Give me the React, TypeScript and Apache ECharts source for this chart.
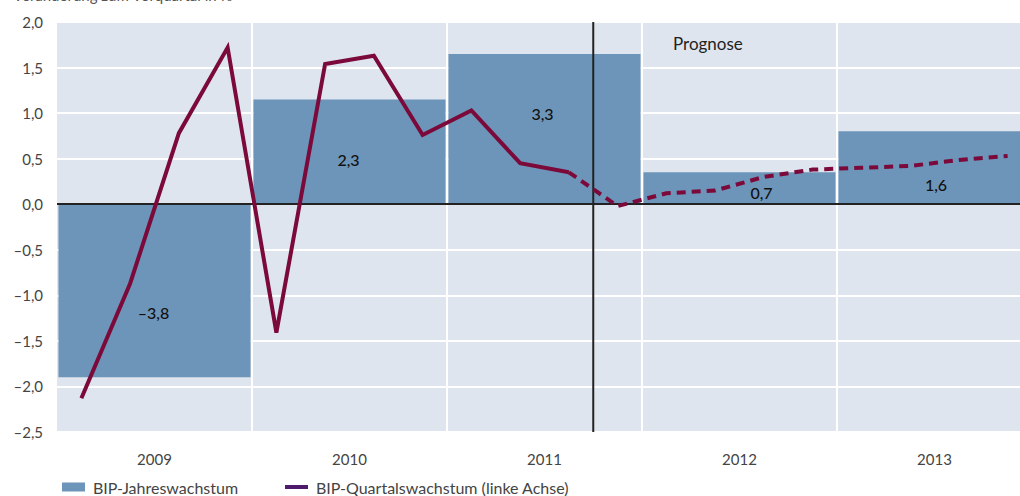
import React, { useEffect, useRef } from "react";
import * as echarts from "echarts";

const years = ["2009", "2010", "2011", "2012", "2013"];
const annualGrowth = [-3.8, 2.3, 3.3, 0.7, 1.6];

const quarters = [
  "2009 Q1", "2009 Q2", "2009 Q3", "2009 Q4",
  "2010 Q1", "2010 Q2", "2010 Q3", "2010 Q4",
  "2011 Q1", "2011 Q2", "2011 Q3", "2011 Q4",
  "2012 Q1", "2012 Q2", "2012 Q3", "2012 Q4",
  "2013 Q1", "2013 Q2", "2013 Q3", "2013 Q4",
];
const quarterlyGrowth = [
  -2.13, -0.87, 0.78, 1.72,
  -1.41, 1.54, 1.63, 0.76,
  1.03, 0.45, 0.35, -0.02,
  0.12, 0.15, 0.3, 0.38,
  0.4, 0.42, 0.485, 0.53,
];
// last observed quarter; the forecast (dashed) starts from here
const lastActualIndex = 10;

const leftAxisMin = -2.5;
const leftAxisMax = 2.0;
const leftAxisInterval = 0.5;
const rightAxisMin = -5;
const rightAxisMax = 4;

const titleText = "Veränderung zum Vorquartal in %";
const forecastText = "Prognose";
const barName = "BIP-Jahreswachstum";
const lineName = "BIP-Quartalswachstum (linke Achse)";

// label placement tweaks for the bar value labels (style, not data)
const barLabelOffsets = [
  [-1, 22],
  [-1, 8],
  [-2, -16],
  [22, 4],
  [1.5, 16.5],
];

const FONT = "Lato, 'Open Sans', sans-serif";
const fmt = (v: number, digits = 1) =>
  v.toFixed(digits).replace(".", ",").replace("-", "–");

export default function App() {
  const ref = useRef<HTMLDivElement | null>(null);

  useEffect(() => {
    document.body.style.margin = "0";
    document.body.style.overflow = "hidden";
    if (!ref.current) return;
    const chart = echarts.init(ref.current, undefined, { renderer: "svg" });

    const gridLeft = 57;
    const gridTop = 22;
    const gridWidth = 975;
    const gridHeight = 410;

    chart.setOption({
      animation: false,
      backgroundColor: "#ffffff",
      textStyle: { fontFamily: FONT },
      grid: {
        left: gridLeft,
        top: gridTop,
        width: gridWidth,
        height: gridHeight,
        show: true,
        backgroundColor: "#dfe5ee",
        borderWidth: 0,
      },
      legend: [
        {
          left: 57,
          top: 474,
          itemWidth: 23,
          itemHeight: 9,
          selectedMode: false,
          textStyle: { fontSize: 16, color: "#444", fontFamily: FONT, padding: [0, 0, 0, 3] },
          data: [{ name: barName, icon: "rect" }],
        },
        {
          left: 280,
          top: 474,
          itemWidth: 23,
          itemHeight: 4,
          selectedMode: false,
          textStyle: { fontSize: 16, color: "#444", fontFamily: FONT, padding: [0, 0, 0, 3] },
          data: [
            {
              name: lineName,
              icon: "rect",
              itemStyle: { color: "#4d1a6d", borderWidth: 0 },
            },
          ],
        },
      ],
      xAxis: [
        {
          type: "category",
          data: years,
          axisLine: { show: false },
          axisTick: { show: false },
          axisLabel: { fontSize: 15, color: "#444", margin: 19, fontFamily: FONT },
          splitLine: {
            show: true,
            interval: (i: number) => i > 0,
            lineStyle: { color: "#ffffff", width: 2 },
          },
        },
        {
          type: "category",
          data: quarters,
          show: false,
        },
      ],
      yAxis: [
        {
          type: "value",
          min: leftAxisMin,
          max: leftAxisMax,
          interval: leftAxisInterval,
          axisLine: { show: false },
          axisTick: { show: false },
          axisLabel: {
            fontSize: 15,
            color: "#444",
            margin: 14,
            fontFamily: FONT,
            formatter: (v: number) => fmt(v),
          },
          splitLine: { show: true, lineStyle: { color: "#ffffff", width: 2 } },
        },
        {
          type: "value",
          min: rightAxisMin,
          max: rightAxisMax,
          show: false,
          splitLine: { show: false },
        },
      ],
      series: [
        {
          name: barName,
          type: "bar",
          xAxisIndex: 0,
          yAxisIndex: 1,
          barCategoryGap: "1.5%",
          z: 2,
          itemStyle: { color: "#6d95b9" },
          label: {
            show: true,
            position: "inside",
            fontSize: 16,
            color: "#111",
            fontFamily: FONT,
            fontWeight: 500,
            formatter: (p: any) => fmt(p.value),
          },
          data: annualGrowth.map((v, i) => ({
            value: v,
            label: { offset: barLabelOffsets[i] },
          })),
          markLine: {
            silent: true,
            symbol: "none",
            z: 3,
            label: { show: false },
            lineStyle: { color: "#222", width: 2, type: "solid" },
            data: [{ yAxis: 0 }],
          },
        },
        {
          name: lineName,
          type: "line",
          xAxisIndex: 1,
          yAxisIndex: 0,
          z: 5,
          symbol: "none",
          lineStyle: { color: "#7b0a3a", width: 4, join: "miter", cap: "butt", miterLimit: 10 },
          itemStyle: { color: "#7b0a3a" },
          data: quarterlyGrowth.map((v, i) => (i <= lastActualIndex ? v : null)),
        },
        {
          name: "Prognose Quartalswachstum",
          type: "line",
          xAxisIndex: 1,
          yAxisIndex: 0,
          z: 5,
          symbol: "none",
          lineStyle: { color: "#7b0a3a", width: 4, type: [9, 6], cap: "butt", join: "miter" },
          itemStyle: { color: "#7b0a3a" },
          data: quarterlyGrowth.map((v, i) => (i >= lastActualIndex ? v : null)),
        },
      ],
    });

    const xa = chart.convertToPixel({ xAxisIndex: 1 }, quarters[lastActualIndex]) as number;
    const xb = chart.convertToPixel({ xAxisIndex: 1 }, quarters[lastActualIndex + 1]) as number;
    const yTop = chart.convertToPixel({ yAxisIndex: 0 }, leftAxisMax) as number;
    const yBottom = chart.convertToPixel({ yAxisIndex: 0 }, leftAxisMin) as number;
    const xDiv = (xa + xb) / 2;

    chart.setOption({
      graphic: [
        {
          type: "line",
          z: 3,
          silent: true,
          shape: { x1: xDiv, y1: yTop, x2: xDiv, y2: yBottom },
          style: { stroke: "#222", lineWidth: 2 },
        },
        {
          type: "text",
          z: 6,
          x: 673,
          y: 35,
          style: { text: forecastText, fontSize: 17, fill: "#222", fontFamily: FONT },
        },
        {
          type: "text",
          z: 6,
          x: 13,
          y: -13,
          style: { text: titleText, fontSize: 15, fill: "#555", fontFamily: FONT },
        },
      ],
    });

    return () => chart.dispose();
  }, []);

  return <div ref={ref} style={{ width: 1035, height: 496 }} />;
}
